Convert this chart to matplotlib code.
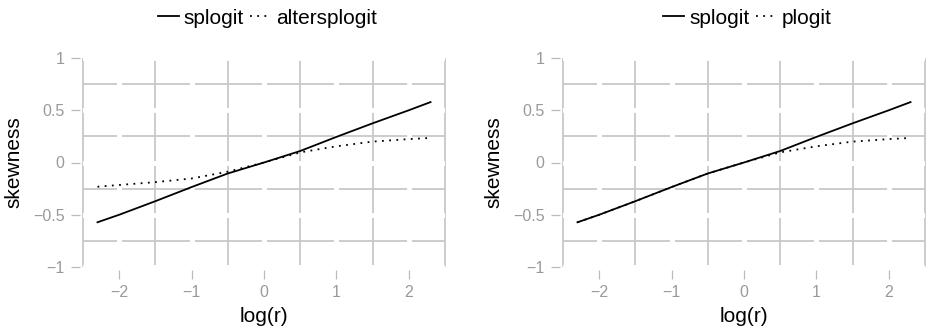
import matplotlib
matplotlib.use("Agg")
import matplotlib.pyplot as plt

plt.rcParams['font.family'] = ['Liberation Sans', 'DejaVu Sans']

# log(r) grid where the skewness was evaluated
log_r = [-2.3, -2.0, -1.5, -1.0, -0.5, 0.0, 0.5, 1.0, 1.5, 2.0, 2.3]

# skewness curves
splogit = [-0.572, -0.50, -0.37, -0.235, -0.105, 0.0, 0.11, 0.245, 0.375, 0.50, 0.578]
altersplogit = [-0.232, -0.215, -0.188, -0.153, -0.088, 0.0, 0.097, 0.155, 0.20, 0.224, 0.235]
plogit = [-0.572, -0.50, -0.37, -0.235, -0.105, 0.0, 0.097, 0.155, 0.20, 0.224, 0.235]

panels = [
    ("splogit", splogit, "altersplogit", altersplogit),
    ("splogit", splogit, "plogit", plogit),
]

x_ticks = [-2, -1, 0, 1, 2]
y_ticks = [-1, -0.5, 0, 0.5, 1]
x_minor = [-2.5, -1.5, -0.5, 0.5, 1.5, 2.5]
y_minor = [-0.75, -0.25, 0.25, 0.75]

grey_line = '#c8c8c8'
grey_text = '#9a9a9a'

fig = plt.figure(figsize=(9.26, 3.3), dpi=100)
lefts = [83 / 926, 563 / 926]

for left, (name1, y1, name2, y2) in zip(lefts, panels):
    ax = fig.add_axes([left, 1 - 267 / 330, 362 / 926, 209 / 330])
    ax.set_xlim(-2.5, 2.5)
    ax.set_ylim(-1, 1)

    # grey minor grid, white major grid on top (leaves gaps)
    for v in x_minor:
        ax.axvline(v, color=grey_line, lw=1.3, zorder=0.5, clip_on=False,
                   solid_capstyle='butt')
    for h in y_minor:
        ax.axhline(h, color=grey_line, lw=1.3, zorder=0.5, clip_on=False,
                   solid_capstyle='butt')
    for v in x_ticks:
        ax.axvline(v, color='white', lw=3.5, zorder=0.6)
    for h in y_ticks:
        ax.axhline(h, color='white', lw=3.5, zorder=0.6)

    ax.plot(log_r, y1, color='black', lw=1.3, label=name1, zorder=2)
    ax.plot(log_r, y2, color='black', lw=1.3, ls=(0, (1, 3)), label=name2, zorder=2)

    for s in ax.spines.values():
        s.set_visible(False)
    ax.spines['left'].set_position(('outward', 2.2))
    ax.spines['bottom'].set_position(('outward', 2.2))

    ax.set_xticks(x_ticks)
    ax.set_yticks(y_ticks)
    ax.set_xticklabels(['\u22122', '\u22121', '0', '1', '2'])
    ax.set_yticklabels(['\u22121', '\u22120.5', '0', '0.5', '1'])
    ax.tick_params(colors='#bbbbbb', labelcolor=grey_text, labelsize=11.5,
                   length=6.5, width=0.9, pad=4.5)

    ax.set_xlabel('log(r)', fontsize=15)
    ax.set_ylabel('skewness', fontsize=15)
    ax.xaxis.set_label_coords(0.5, -0.19)
    ax.yaxis.set_label_coords(-0.165, 0.5)

    ax.legend(loc='center', bbox_to_anchor=(0.51, 1.19), ncol=2, frameon=False,
              fontsize=15, handlelength=1.0, handletextpad=0.25,
              columnspacing=0.3, borderpad=0)

fig.savefig('out.png', dpi=100)
